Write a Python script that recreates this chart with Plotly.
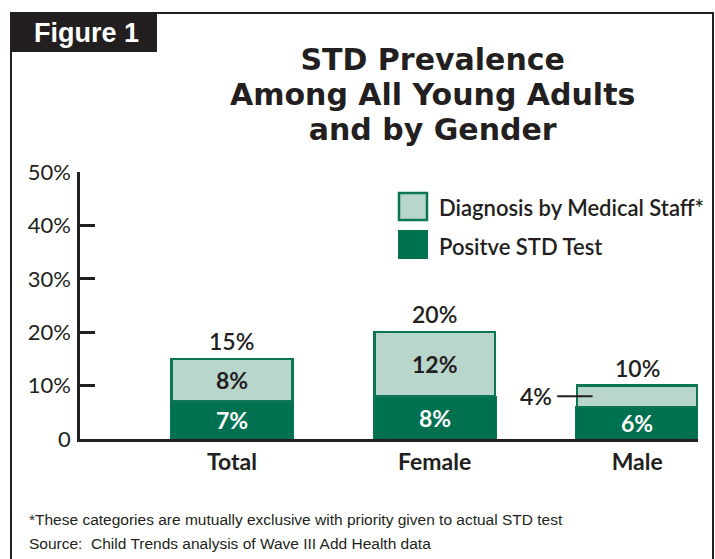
import plotly.graph_objects as go

# Data
categories = ["Total", "Female", "Male"]
positive_test = [7, 8, 6]          # Positve STD Test
diagnosis_staff = [8, 12, 4]       # Diagnosis by Medical Staff*
totals = [15, 20, 10]
y_ticks = [0, 10, 20, 30, 40, 50]
y_tick_labels = ["0", "10%", "20%", "30%", "40%", "50%"]
title_lines = ["STD Prevalence", "Among All Young Adults", "and by Gender"]

DARK = "#007150"
LIGHT = "#b9d6cd"
EDGE = "#0c7654"
INK = "#231f20"
BODY = "Lato, 'Open Sans', sans-serif"
HEAVY = "'Liberation Sans', Arial, sans-serif"
WIDE = "'DejaVu Sans', sans-serif"
NARROW = "'Liberation Sans Narrow', 'Liberation Sans', sans-serif"

W, H = 715, 559
L, R, T, B = 80, 698, 172, 439  # plot area in pixels


def px(x):
    return (x - L) / (R - L)


def py(y):
    return (B - y) / (B - T)


def note(text, x, y, size, family=BODY, color=INK, weight=None, xanchor="center"):
    f = dict(family=family, size=size, color=color)
    if weight:
        f["weight"] = weight
    return dict(text=text, x=px(x), y=py(y), xref="paper", yref="paper",
                xanchor=xanchor, yanchor="middle", showarrow=False, font=f)


xi = list(range(len(categories)))

fig = go.Figure()
fig.add_trace(go.Bar(
    x=xi, y=positive_test, name="Positve STD Test",
    marker=dict(color=DARK, line=dict(color=EDGE, width=1)),
    width=0.607, showlegend=False, hoverinfo="skip",
))
fig.add_trace(go.Bar(
    x=xi, y=diagnosis_staff, name="Diagnosis by Medical Staff*",
    marker=dict(color=LIGHT, line=dict(color=EDGE, width=2.5)),
    width=0.595, showlegend=False, hoverinfo="skip",
))

ann = []
shapes = []

# Outer frame and "Figure 1" tab
shapes.append(dict(type="rect", xref="paper", yref="paper",
                   x0=px(11), x1=px(713), y0=py(13), y1=py(575),
                   line=dict(color=INK, width=2), fillcolor="rgba(0,0,0,0)"))
shapes.append(dict(type="rect", xref="paper", yref="paper",
                   x0=px(10), x1=px(157), y0=py(13), y1=py(52),
                   line=dict(width=0), fillcolor=INK))
ann.append(note("<b>Figure 1</b>", 86, 33, 27, family=HEAVY, color="white"))

# Title: three centred lines with tight leading
title_html = "<br>".join('<span style="font-size:30px"><b>%s</b></span>' % s for s in title_lines)
ann.append(note(title_html, 432, 95, 27, family=WIDE))

# Value labels inside and above the bars
for i in xi:
    p, d, t = positive_test[i], diagnosis_staff[i], totals[i]
    ann.append(dict(text="%d%%" % p, x=i, y=p / 2, xref="x", yref="y", showarrow=False,
                    yanchor="middle", font=dict(family=BODY, size=23, color="white", weight=700)))
    ann.append(dict(text="%d%%" % t, x=i, y=t, xref="x", yref="y", showarrow=False,
                    yanchor="middle", yshift=18, font=dict(family=BODY, size=23, color=INK, weight=600)))
    if d >= 6:
        ann.append(dict(text="%d%%" % d, x=i, y=p + d / 2, xref="x", yref="y", showarrow=False,
                        yanchor="middle", font=dict(family=BODY, size=23, color=INK, weight=700)))
    else:
        # thin segment: label placed to the left with a leader line
        ymid = p + d / 2
        shapes.append(dict(type="line", xref="x", yref="y", x0=i - 0.395, x1=i - 0.22,
                           y0=ymid, y1=ymid, line=dict(color=INK, width=2)))
        ann.append(dict(text="%d%%" % d, x=i - 0.41, y=ymid, xref="x", yref="y", showarrow=False,
                        xanchor="right", yanchor="middle",
                        font=dict(family=BODY, size=23, color=INK, weight=600)))

# Legend
shapes.append(dict(type="rect", xref="paper", yref="paper", x0=px(399), x1=px(427),
                   y0=py(193), y1=py(220), fillcolor=LIGHT, line=dict(color=EDGE, width=2.5)))
shapes.append(dict(type="rect", xref="paper", yref="paper", x0=px(398), x1=px(428),
                   y0=py(230), y1=py(259), fillcolor=DARK, line=dict(width=0)))
ann.append(note("Diagnosis by Medical Staff*", 437, 207, 22, weight=600, xanchor="left"))
ann.append(note("Positve STD Test", 437, 246, 22, weight=600, xanchor="left"))

# Footnotes
ann.append(note("*These categories are mutually exclusive with priority given to actual STD test",
                27, 519, 15.5, family=NARROW, xanchor="left"))
ann.append(note("Source:  Child Trends analysis of Wave III Add Health data",
                27, 543, 15.5, family=NARROW, xanchor="left"))

fig.update_layout(
    width=W, height=H,
    margin=dict(l=L, r=W - R, t=T, b=H - B),
    barmode="stack",
    paper_bgcolor="white", plot_bgcolor="white",
    annotations=ann, shapes=shapes,
    xaxis=dict(range=[-0.75, 2.30], tickvals=xi,
               ticktext=["<b>%s</b>" % c for c in categories],
               showgrid=False, zeroline=False, showline=True, linecolor=INK, linewidth=2.5,
               ticks="", tickfont=dict(family=BODY, size=23, color=INK), ticklabelstandoff=1),
    yaxis=dict(range=[0, 50], tickvals=y_ticks, ticktext=y_tick_labels,
               showgrid=False, zeroline=False, showline=True, linecolor=INK, linewidth=2.5,
               ticks="inside", ticklen=15, tickwidth=2.5, tickcolor=INK,
               tickfont=dict(family=BODY, size=22, color=INK), ticklabelstandoff=2),
)

fig.write_html("out.html")
